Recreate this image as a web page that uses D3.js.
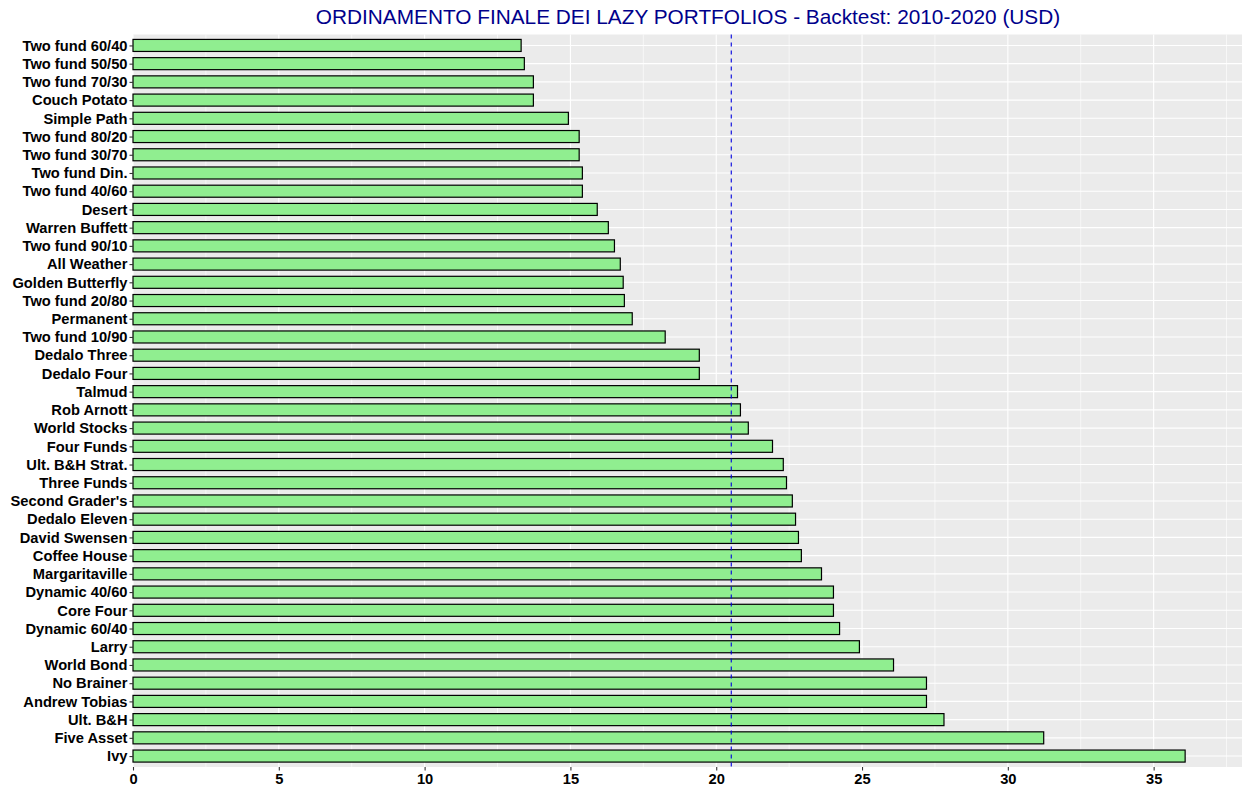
<!DOCTYPE html>
<html>
<head>
<meta charset="utf-8">
<script src="https://cdn.jsdelivr.net/npm/d3@7"></script>
<style>
  body { margin: 0; background: #fff; }
  svg { display: block; font-family: "Liberation Sans", Arial, sans-serif; }
</style>
</head>
<body>
<svg id="chart" width="1250" height="796"></svg>
<script>
// Portfolios, top to bottom as drawn
var portfolios = [
  "Two fund 60/40", "Two fund 50/50", "Two fund 70/30", "Couch Potato", "Simple Path",
  "Two fund 80/20", "Two fund 30/70", "Two fund Din.", "Two fund 40/60", "Desert",
  "Warren Buffett", "Two fund 90/10", "All Weather", "Golden Butterfly", "Two fund 20/80",
  "Permanent", "Two fund 10/90", "Dedalo Three", "Dedalo Four", "Talmud",
  "Rob Arnott", "World Stocks", "Four Funds", "Ult. B&H Strat.", "Three Funds",
  "Second Grader's", "Dedalo Eleven", "David Swensen", "Coffee House", "Margaritaville",
  "Dynamic 40/60", "Core Four", "Dynamic 60/40", "Larry", "World Bond",
  "No Brainer", "Andrew Tobias", "Ult. B&H", "Five Asset", "Ivy"
]
// Final ranking score
var scores = [
  13.31, 13.42, 13.73, 13.73, 14.93,
  15.30, 15.30, 15.41, 15.41, 15.92,
  16.30, 16.51, 16.71, 16.81, 16.85,
  17.12, 18.25, 19.42, 19.42, 20.73,
  20.83, 21.10, 21.93, 22.30, 22.41,
  22.61, 22.72, 22.82, 22.92, 23.61,
  24.02, 24.02, 24.23, 24.91, 26.08,
  27.21, 27.21, 27.81, 31.23, 36.08
]
var xTicks = [0, 5, 10, 15, 20, 25, 30, 35]
var xMinor = [2.5, 7.5, 12.5, 17.5, 22.5, 27.5, 32.5, 37.5]
var title = "ORDINAMENTO FINALE DEI LAZY PORTFOLIOS - Backtest: 2010-2020 (USD)"

// panel edges
var pLeft = 133, pRight = 1242, pTop = 34.5, pBottom = 767
var svg = d3.select('#chart')

var x = d3.scaleLinear().domain([0, 38.03]).range([pLeft, pRight])
var y = d3.scalePoint().domain(portfolios).range([pTop, pBottom]).padding(0.6)
var barH = y.step() * 0.66

// panel
svg.append('rect')
  .attr('x', pLeft).attr('y', pTop)
  .attr('width', pRight - pLeft).attr('height', pBottom - pTop)
  .attr('fill', '#EBEBEB')

// grid lines
svg.append('g').selectAll('line').data(xMinor).join('line')
  .attr('x1', d => x(d)).attr('x2', d => x(d))
  .attr('y1', pTop).attr('y2', pBottom)
  .attr('stroke', '#fff').attr('stroke-width', 0.6)
svg.append('g').selectAll('line').data(xTicks).join('line')
  .attr('x1', d => x(d)).attr('x2', d => x(d))
  .attr('y1', pTop).attr('y2', pBottom)
  .attr('stroke', '#fff').attr('stroke-width', 1.1)
svg.append('g').selectAll('line').data(portfolios).join('line')
  .attr('x1', pLeft).attr('x2', pRight)
  .attr('y1', d => y(d)).attr('y2', d => y(d))
  .attr('stroke', '#fff').attr('stroke-width', 1.1)

// bars
svg.append('g').selectAll('rect').data(portfolios).join('rect')
  .attr('x', x(0))
  .attr('y', d => y(d) - barH / 2)
  .attr('width', (d, i) => x(scores[i]) - x(0))
  .attr('height', barH)
  .attr('fill', '#90EE90')
  .attr('stroke', '#000')
  .attr('stroke-width', 1.2)

// mean line
var avg = d3.mean(scores)
svg.append('line')
  .attr('x1', x(avg)).attr('x2', x(avg))
  .attr('y1', pTop).attr('y2', pBottom)
  .attr('stroke', '#0000E0').attr('stroke-width', 1.1)
  .attr('stroke-dasharray', '4,4')

// axes
var yAxis = d3.axisLeft(y).tickSize(3.5).tickPadding(2)
var gy = svg.append('g').attr('transform', 'translate(' + pLeft + ',0)').call(yAxis)
gy.select('.domain').remove()
gy.attr('font-size', 14.7).attr('font-family', '"Liberation Sans", Arial, sans-serif')
gy.selectAll('.tick line').attr('stroke', '#333').attr('stroke-width', 1.1)
gy.selectAll('.tick text').attr('font-weight', 'bold').attr('fill', '#000')

var xAxis = d3.axisBottom(x).tickValues(xTicks).tickSize(3.5).tickPadding(3)
var gx = svg.append('g').attr('transform', 'translate(0,' + pBottom + ')').call(xAxis)
gx.select('.domain').remove()
gx.attr('font-size', 14.7).attr('font-family', '"Liberation Sans", Arial, sans-serif')
gx.selectAll('.tick line').attr('stroke', '#333').attr('stroke-width', 1.1)
gx.selectAll('.tick text').attr('font-weight', 'bold').attr('fill', '#000')

// title
svg.append('text')
  .attr('x', (pLeft + pRight) / 2 + 0.5).attr('y', 24)
  .attr('text-anchor', 'middle')
  .attr('font-size', 20.8)
  .attr('fill', '#00008B')
  .text(title)
</script>
</body>
</html>
